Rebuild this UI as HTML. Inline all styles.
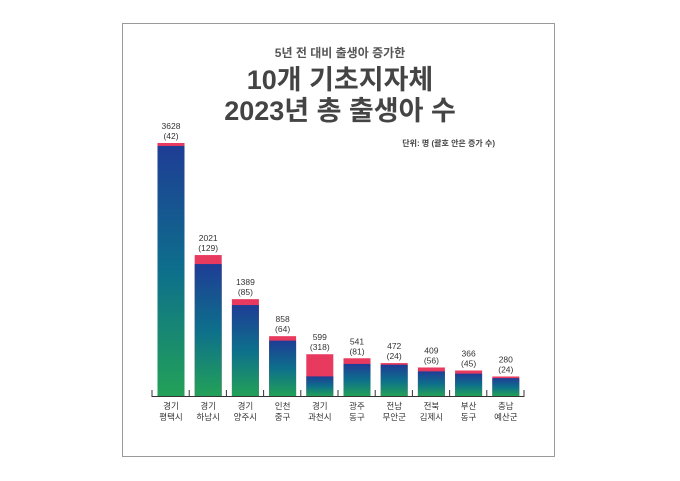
<!DOCTYPE html>
<html><head><meta charset="utf-8"><style>
body{margin:0;background:#fff;width:680px;height:481px;overflow:hidden}
svg{display:block}
text{font-family:"Liberation Sans","Noto Sans CJK KR",sans-serif}
</style></head><body>
<svg width="680" height="481">
<defs>
<linearGradient id="g" x1="0" y1="0" x2="0" y2="1">
<stop offset="0" stop-color="#1f3d95"/><stop offset="0.5" stop-color="#0d6f8c"/><stop offset="1" stop-color="#23a158"/>
</linearGradient>
</defs>
<rect x="122.5" y="23.5" width="432" height="433" fill="#fff" stroke="#9a9a9a"/>
<text x="340" y="57" text-anchor="middle" font-size="12" font-weight="bold" fill="#555">5년 전 대비 출생아 증가한</text>
<text x="340" y="89" text-anchor="middle" font-size="27" font-weight="bold" fill="#444">10개 기초지자체</text>
<text x="340" y="120" text-anchor="middle" font-size="27" font-weight="bold" fill="#444">2023년 총 출생아 수</text>
<text x="495" y="146" text-anchor="end" font-size="8" font-weight="bold" fill="#444">단위: 명 (괄호 안은 증가 수)</text>
<g id="bars"></g>
<line x1="152" y1="396.5" x2="524" y2="396.5" stroke="#333"/>
</svg>
<script>
const cats1=["경기","경기","경기","인천","경기","광주","전남","전북","부산","충남"];
const cats2=["평택시","하남시","양주시","중구","과천시","동구","무안군","김제시","동구","예산군"];
const totals=[3628,2021,1389,858,599,541,472,409,366,280];
const increases=[42,129,85,64,318,81,24,56,45,24];
const base=396, scale=253/3628, x0=171, step=37.2, bw=27;
const y=v=>base-v*scale;
const g=document.getElementById('bars');
const NS="http://www.w3.org/2000/svg";
function mk(t,a){const e=document.createElementNS(NS,t);for(const k in a)e.setAttribute(k,a[k]);g.appendChild(e);return e;}
totals.forEach((v,i)=>{
 const cx=x0+i*step, inc=increases[i];
 const r=mk('rect',{x:cx-bw/2,y:y(v),width:bw,height:v*scale,fill:'#e8395f'});
 
 
 const b=mk('rect',{x:cx-bw/2,y:y(v-inc),width:bw,height:(v-inc)*scale,fill:'url(#g)'});
 
 
 const t1=mk('text',{x:cx,y:y(v)-14,'text-anchor':'middle','font-size':'8.5',fill:'#333'});t1.textContent=v;
 
 
 const t2=mk('text',{x:cx,y:y(v)-4,'text-anchor':'middle','font-size':'8.5',fill:'#333'});t2.textContent='('+inc+')';
 
 
 const c1=mk('text',{x:cx,y:409,'text-anchor':'middle','font-size':'8.5',fill:'#333'});c1.textContent=cats1[i];
 
 
 const c2=mk('text',{x:cx,y:420,'text-anchor':'middle','font-size':'8.5',fill:'#333'});c2.textContent=cats2[i];
 
 
});
for(let i=0;i<=10;i++){const tx=152+i*step;const l=mk('line',{x1:tx,y1:390,x2:tx,y2:397,stroke:'#333'});
 
 }
</script>
</body></html>
